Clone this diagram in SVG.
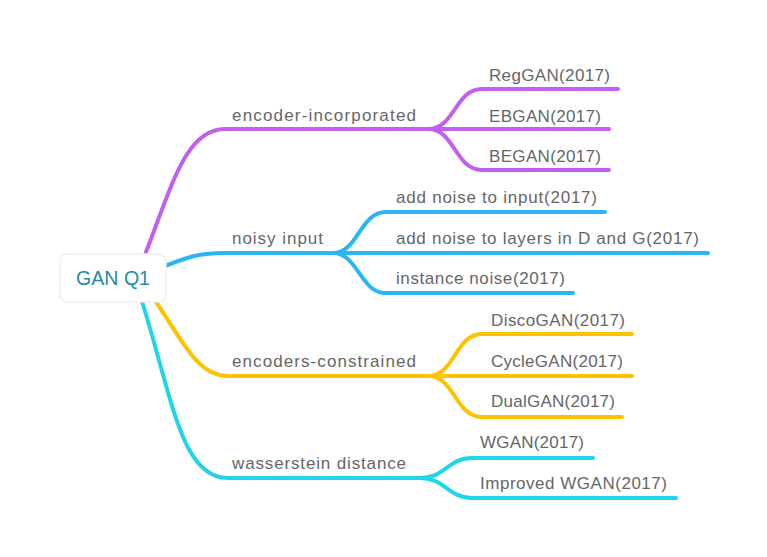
<svg xmlns="http://www.w3.org/2000/svg" width="767" height="557" viewBox="0 0 767 557">
<style>
.c{fill:none;stroke-width:4;stroke-linecap:round;stroke-linejoin:round}
.p{stroke:#c05ff0}.b{stroke:#2ab6f5}.y{stroke:#fcc300}.t{stroke:#21d4e8}
text{font-family:"Liberation Sans",Arial,sans-serif;font-size:17px;fill:#666}
.root{font-size:20px;fill:#1f8aa6}
</style>
<rect width="767" height="557" fill="#fff"/>
<g id="connectors">
<path class="c p" d="M146,252 C172,185 186,129 225,129 L428,129"/>
<path class="c p" d="M428,129 C455,129 455,89 482,89 L618,89"/>
<path class="c p" d="M428,129 L609,129"/>
<path class="c p" d="M428,129 C455,129 455,170 482,170 L609,170"/>
<path class="c b" d="M160,268 C190,256 200,253 225,253 L333,253"/>
<path class="c b" d="M333,253 C358,253 360,212 386,212 L605,212"/>
<path class="c b" d="M333,253 L708,253"/>
<path class="c b" d="M333,253 C358,253 360,293 386,293 L573,293"/>
<path class="c y" d="M148,290 C180,335 195,376 228,376 L428,376"/>
<path class="c y" d="M428,376 C455,376 455,334 482,334 L632,334"/>
<path class="c y" d="M428,376 L632,376"/>
<path class="c y" d="M428,376 C455,376 455,417 482,417 L622,417"/>
<path class="c t" d="M140,295 C172,395 180,478 228,478 L420,478"/>
<path class="c t" d="M420,478 C445,478 448,458 472,458 L593,458"/>
<path class="c t" d="M420,478 C445,478 448,498 472,498 L676,498"/>
</g>
<g id="root">
<rect x="60" y="254" width="106" height="48" rx="7" fill="#fff" stroke="#f0f0f0" stroke-width="1.5"/>
<text class="root" x="76" y="285" textLength="74" lengthAdjust="spacingAndGlyphs">GAN Q1</text>
</g>
<g id="encoder-incorporated"><text x="232" y="121" textLength="184">encoder-incorporated</text></g>
<g id="reggan"><text x="489" y="81" textLength="121">RegGAN(2017)</text></g>
<g id="ebgan"><text x="489" y="122" textLength="112">EBGAN(2017)</text></g>
<g id="began"><text x="489" y="162" textLength="112">BEGAN(2017)</text></g>
<g id="noisy-input"><text x="232" y="244" textLength="91">noisy input</text></g>
<g id="noise-input"><text x="396" y="203" textLength="201">add noise to input(2017)</text></g>
<g id="noise-layers"><text x="396" y="244" textLength="303">add noise to layers in D and G(2017)</text></g>
<g id="instance-noise"><text x="396" y="284" textLength="169">instance noise(2017)</text></g>
<g id="encoders-constrained"><text x="232" y="367" textLength="184">encoders-constrained</text></g>
<g id="discogan"><text x="491" y="326" textLength="134">DiscoGAN(2017)</text></g>
<g id="cyclegan"><text x="491" y="367" textLength="132">CycleGAN(2017)</text></g>
<g id="dualgan"><text x="491" y="407" textLength="124">DualGAN(2017)</text></g>
<g id="wasserstein"><text x="232" y="469" textLength="174">wasserstein distance</text></g>
<g id="wgan"><text x="480" y="448" textLength="104">WGAN(2017)</text></g>
<g id="improved-wgan"><text x="480" y="489" textLength="187">Improved WGAN(2017)</text></g>
</svg>
